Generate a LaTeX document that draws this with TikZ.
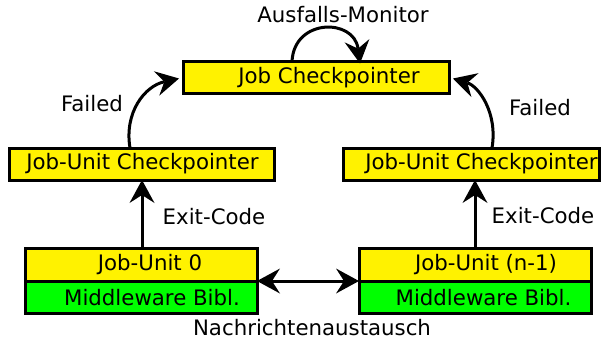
\documentclass[tikz,border=0pt]{standalone}
\usepackage{fontspec}
\setmainfont{DejaVu Sans}
\usetikzlibrary{arrows.meta}
\definecolor{boxyellow}{RGB}{255,242,0}
\definecolor{boxgreen}{RGB}{0,255,0}
\tikzset{
  box/.style={draw=black, line width=3pt, inner sep=0pt, outer sep=0pt, anchor=center},
  txt/.style={inner sep=0pt, font=\fontsize{21.3}{24}\selectfont},
  bigtip/.tip={Stealth[length=23pt, width=25pt, inset=8pt, line width=0pt]},
  arr/.style={draw=black, line width=3pt, -bigtip},
  darr/.style={draw=black, line width=3pt, bigtip-bigtip}
}
\begin{document}
\begin{tikzpicture}[x=1pt, y=-1pt]
\useasboundingbox (0,0) rectangle (602,340);

% top checkpointer
\node[box, fill=boxyellow, minimum width=266pt, minimum height=32pt] (jc) at (316,77.5) {};
\node[txt] (jct) at (329,77.5) {Job Checkpointer};

% job-unit checkpointers
\node[box, fill=boxyellow, minimum width=265pt, minimum height=32pt] (jucL) at (141.5,164) {};
\node[txt] (jucLt) at (142.5,164) {Job-Unit Checkpointer};
\node[box, fill=boxyellow, minimum width=256pt, minimum height=32pt] (jucR) at (471,164) {};
\node[txt] (jucRt) at (481.5,164) {Job-Unit Checkpointer};

% job units with middleware layer
\node[box, fill=boxyellow, minimum width=232pt, minimum height=33pt] (ju0) at (141,264.5) {};
\node[box, fill=boxgreen, minimum width=232pt, minimum height=32pt] (mw0) at (141,297) {};
\node[txt] (ju0t) at (150,264.5) {Job-Unit 0};
\node[txt] (mw0t) at (152,297.5) {Middleware Bibl.};

\node[box, fill=boxyellow, minimum width=232pt, minimum height=33pt] (juN) at (475,264.5) {};
\node[box, fill=boxgreen, minimum width=232pt, minimum height=32pt] (mwN) at (475,297) {};
\node[txt] (juNt) at (486,264.5) {Job-Unit (n-1)};
\node[txt] (mwNt) at (483.5,297.5) {Middleware Bibl.};

% labels
\node[txt] (lmon) at (343,15) {Ausfalls-Monitor};
\node[txt] (lfl) at (92,104) {Failed};
\node[txt] (lfr) at (540,108) {Failed};
\node[txt] (lel) at (214,217) {Exit-Code};
\node[txt] (ler) at (543,216) {Exit-Code};
\node[txt] (lmsg) at (312,328) {Nachrichtenaustausch};

% helper x positions
\coordinate (xl) at (142,0);
\coordinate (xr) at (475,0);

% exit codes
\draw[arr] (ju0.north -| xl) -- (jucL.south -| xl);
\draw[arr] (juN.north -| xr) -- (jucR.south -| xr);

% failure reports
\coordinate (fl) at (130,0);
\coordinate (fr) at (492,0);
\draw[arr] (jucL.north -| fl) .. controls (124,112) and (145,86) .. ([xshift=-4pt,yshift=-1pt]jc.west);
\draw[arr] (jucR.north -| fr) .. controls (498,112) and (478,86) .. ([xshift=4pt,yshift=-1pt]jc.east);

% monitor loop
\coordinate (ml) at (292,0);
\coordinate (mr) at (360,0);
\draw[arr] (jc.north -| ml) .. controls (294,18) and (354,18) .. ([yshift=-2pt]jc.north -| mr);

% message exchange
\draw[darr] (ju0.south east) -- (juN.south west);
\end{tikzpicture}
\end{document}
